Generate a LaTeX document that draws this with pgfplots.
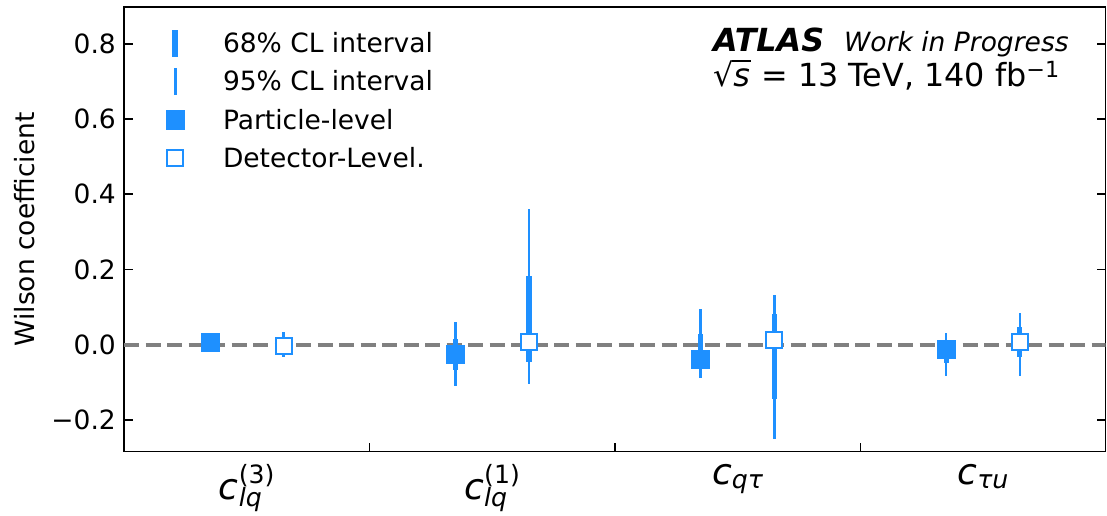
\documentclass[border=0pt]{standalone}
\usepackage{fontspec}
\setmainfont{DejaVu Sans}
\usepackage{pgfplots}
\pgfplotsset{compat=1.18}
\usepackage{pgfplotstable}

\definecolor{dodger}{RGB}{30,144,255}
\definecolor{refgray}{RGB}{128,128,128}

\newcommand{\bodyfont}{\fontsize{26.5}{31}\selectfont}
\newcommand{\labfont}{\fontsize{36}{42}\selectfont}
\newcommand{\smallfnt}{\fontsize{25.2}{28}\selectfont}
% Wilson coefficient symbols: c with a subscript, optionally a superscript
\newcommand{\wcsub}[1]{\textit{c}\raisebox{-0.12em}{\smallfnt\textit{#1}}}
\newcommand{\wcsubsup}[2]{\textit{c}\rlap{\raisebox{-0.2em}{\smallfnt\textit{#1}}}\raisebox{0.45em}{\smallfnt #2}}
% square root of s, built from the radical glyph and a bar
\newcommand{\sqrts}{√\kern-0.04em\rlap{\rule[0.80em]{0.58em}{0.055em}}\kern0.04em\textit{s}\kern0.04em}

% columns: position, central value, 68% interval, 95% interval
\pgfplotstableread{
x     c       lo68    hi68   lo95    hi95
0.35  0.007  -0.008   0.020 -0.018   0.028
1.35 -0.025  -0.067   0.016 -0.111   0.059
2.35 -0.040  -0.058   0.027 -0.090   0.095
3.35 -0.013  -0.049   0.008 -0.084   0.031
}\particle

\pgfplotstableread{
x     c       lo68    hi68   lo95    hi95
0.65 -0.004  -0.020   0.012 -0.034   0.034
1.65  0.006  -0.047   0.183 -0.105   0.361
2.65  0.012  -0.146   0.080 -0.252   0.133
3.65  0.007  -0.033   0.047 -0.084   0.084
}\detector

\begin{document}
\begin{tikzpicture}
\path[use as bounding box] (0,0) rectangle (1107pt,515pt);
\begin{axis}[
  at={(124pt,63.3pt)}, anchor=south west,
  scale only axis, width=981.7pt, height=444.7pt,
  xmin=0, xmax=4, ymin=-0.285, ymax=0.898,
  axis line style={line width=1.5pt},
  tick align=inside, major tick length=9pt,
  every tick/.style={black, line width=1.5pt},
  xtick={1,2,3}, xticklabels={},
  xtick pos=left, ytick pos=both,
  extra x ticks={0.5,1.5,2.5,3.5},
  extra x tick labels={{\wcsubsup{lq}{(3)}},{\wcsubsup{lq}{(1)}},{\wcsub{qτ}},{\wcsub{τu}}},
  extra x tick style={major tick length=0pt},
  xticklabel style={font=\labfont, inner sep=0pt, yshift=-12pt},
  ytick={-0.2,0,0.2,0.4,0.6,0.8},
  yticklabels={−0.2,0.0,0.2,0.4,0.6,0.8},
  yticklabel style={font=\bodyfont, inner sep=0pt, xshift=-8pt},
  ylabel={Wilson coefficient},
  ylabel style={font=\bodyfont, at={(axis description cs:-0.0907,0.5)}, anchor=south, inner sep=0pt},
  legend style={at={(0.0418,0.949)}, anchor=north west, draw=none, fill=none,
    inner sep=0pt, outer sep=0pt, row sep=11.3pt, column sep=38pt, font=\bodyfont,
    nodes={inner sep=0pt, text height=23pt, text depth=4pt}},
  legend cell align=left,
]
% reference line at zero
\addplot[refgray, line width=4pt, dash pattern=on 15pt off 6.5pt, forget plot]
  coordinates {(0,0) (4,0)};

% 95% intervals
\addplot[only marks, mark=none, forget plot,
  error bars/.cd, y dir=both, y explicit, error mark=none,
  error bar style={draw=dodger, solid, line width=2.6pt}]
  table[x=x, y=c, y error plus expr=\thisrow{hi95}-\thisrow{c}, y error minus expr=\thisrow{c}-\thisrow{lo95}] {\particle};
\addplot[only marks, mark=none, forget plot,
  error bars/.cd, y dir=both, y explicit, error mark=none,
  error bar style={draw=dodger, solid, line width=2.6pt}]
  table[x=x, y=c, y error plus expr=\thisrow{hi95}-\thisrow{c}, y error minus expr=\thisrow{c}-\thisrow{lo95}] {\detector};

% 68% intervals
\addplot[only marks, mark=none, forget plot,
  error bars/.cd, y dir=both, y explicit, error mark=none,
  error bar style={draw=dodger, solid, line width=5.2pt}]
  table[x=x, y=c, y error plus expr=\thisrow{hi68}-\thisrow{c}, y error minus expr=\thisrow{c}-\thisrow{lo68}] {\particle};
\addplot[only marks, mark=none, forget plot,
  error bars/.cd, y dir=both, y explicit, error mark=none,
  error bar style={draw=dodger, solid, line width=5.2pt}]
  table[x=x, y=c, y error plus expr=\thisrow{hi68}-\thisrow{c}, y error minus expr=\thisrow{c}-\thisrow{lo68}] {\detector};

% central values
\addplot[only marks, mark=square*, mark size=9pt, forget plot,
  mark options={fill=dodger, draw=dodger, line width=0.6pt}]
  table[x=x, y=c] {\particle};
\addplot[only marks, mark=square*, mark size=8pt, forget plot,
  mark options={fill=white, draw=dodger, line width=2pt}]
  table[x=x, y=c] {\detector};

% legend
\addlegendimage{legend image code/.code={
  \path[draw=none, fill=none] (-10pt,-13pt) rectangle (10pt,13pt);
  \fill[dodger] (-2.5pt,-13pt) rectangle (2.5pt,13pt);}}
\addlegendentry{68\% CL interval}
\addlegendimage{legend image code/.code={
  \path[draw=none, fill=none] (-10pt,-13pt) rectangle (10pt,13pt);
  \fill[dodger] (-1.3pt,-13pt) rectangle (1.3pt,13pt);}}
\addlegendentry{95\% CL interval}
\addlegendimage{legend image code/.code={
  \path[draw=none, fill=none] (-10pt,-13pt) rectangle (10pt,13pt);
  \fill[dodger] (-9.3pt,-9.3pt) rectangle (9.3pt,9.3pt);}}
\addlegendentry{Particle-level}
\addlegendimage{legend image code/.code={
  \path[draw=none, fill=none] (-10pt,-13pt) rectangle (10pt,13pt);
  \draw[dodger, line width=2pt, fill=white] (-8pt,-8pt) rectangle (8pt,8pt);}}
\addlegendentry{Detector-Level.}
\end{axis}

\node[anchor=base west, inner sep=0pt] at (713pt,463pt)
  {\fontsize{31.8}{36}\selectfont\bfseries\itshape ATLAS\hspace{20pt}\mdseries\fontsize{26.5}{31}\selectfont Work in Progress};
\node[anchor=base west, inner sep=0pt] at (713pt,428pt)
  {\fontsize{31.8}{36}\selectfont \sqrts{} = 13 TeV, 140 fb\textsuperscript{−1}};
\end{tikzpicture}
\end{document}
